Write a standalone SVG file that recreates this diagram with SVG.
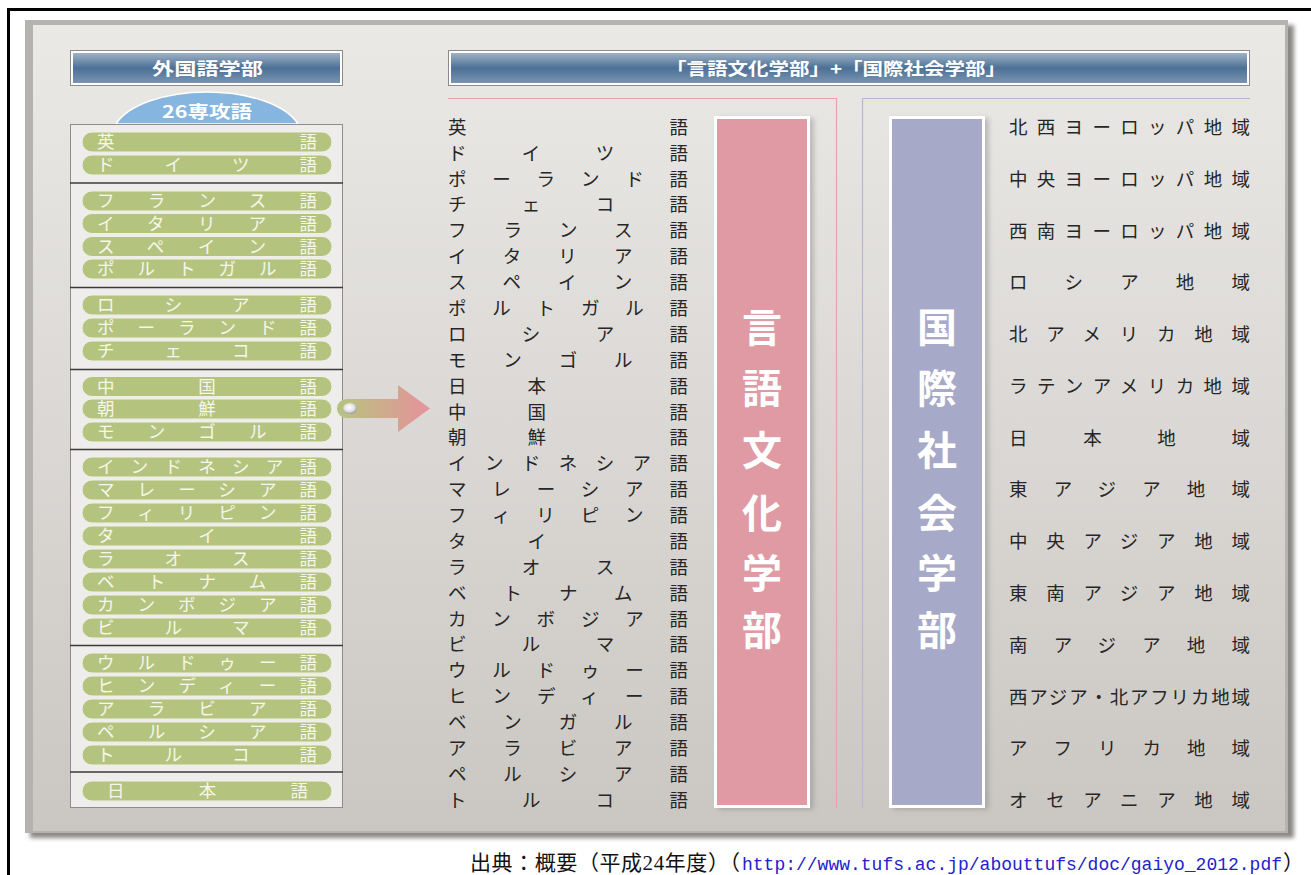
<svg xmlns="http://www.w3.org/2000/svg" width="1311" height="875" viewBox="0 0 1311 875">
<style>
.jp{font-family:"Noto Sans CJK JP","Noto Sans",sans-serif}
.pill rect{fill:#b4c47f;stroke:#eef0e4;stroke-width:1}
.pill text{font-family:"Noto Sans CJK JP",sans-serif;font-size:17.5px;fill:#f6f6ea}
.md text{font-family:"Noto Sans CJK JP",sans-serif;font-size:18.5px;fill:#262626}
.rt text{font-family:"Noto Sans CJK JP",sans-serif;font-size:18.5px;fill:#262626}
.hd{font-family:"Noto Sans CJK JP",sans-serif;font-size:17px;font-weight:bold;fill:#fff}
.vt{font-family:"Noto Sans CJK JP",sans-serif;font-size:40px;font-weight:bold;fill:#fff;text-anchor:middle}
.div{stroke:#3a3a3a;stroke-width:1.5}
</style>
<defs>
<linearGradient id="panelG" x1="0" y1="0" x2="0" y2="1"><stop offset="0" stop-color="#ebe9e6"/><stop offset="1" stop-color="#cac7c3"/></linearGradient>
<linearGradient id="hdrG" x1="0" y1="0" x2="0" y2="1"><stop offset="0" stop-color="#9fb2c6"/><stop offset=".5" stop-color="#4c7096"/><stop offset="1" stop-color="#7a94b0"/></linearGradient>
<linearGradient id="arrowG" gradientUnits="userSpaceOnUse" x1="337" y1="0" x2="430" y2="0"><stop offset="0" stop-color="#b5c47e"/><stop offset="1" stop-color="#e7929c"/></linearGradient>
<radialGradient id="knobG" cx=".45" cy=".4" r=".6"><stop offset="0" stop-color="#fff"/><stop offset=".6" stop-color="#e2e2e2"/><stop offset="1" stop-color="#9a9a9a"/></radialGradient>
<filter id="shadow" x="-20%" y="-5%" width="150%" height="110%"><feDropShadow dx="4" dy="2" stdDeviation="2.5" flood-color="#888" flood-opacity=".45"/></filter>
<filter id="blur"><feGaussianBlur stdDeviation="2"/></filter>
</defs>

<g id="panel">
<rect x="30" y="25" width="1264" height="813" fill="#8b8986" filter="url(#blur)"/>
<rect x="25" y="20" width="1263" height="813" fill="#b5b3b0"/>
<rect x="33" y="25" width="1252" height="806" fill="url(#panelG)"/>
</g>
<path d="M8.5 875V9.5H1311" fill="none" stroke="#000" stroke-width="3"/>

<g id="hdr-left">
<rect x="70.5" y="50.5" width="272" height="35" fill="#fff" stroke="#8a8a8a"/>
<rect x="73" y="53" width="267" height="30" fill="url(#hdrG)"/>
<text class="hd" x="152" y="75" textLength="111" lengthAdjust="spacingAndGlyphs">外国語学部</text>
</g>

<g id="badge-26">
<path d="M116 124A95 45 0 0 1 298 124Z" fill="#86b5df" stroke="#fff" stroke-width="1.5"/>
<text class="hd" x="162" y="118" textLength="90" lengthAdjust="spacingAndGlyphs">26専攻語</text>
</g>

<g id="list-left">
<rect x="70.5" y="124.5" width="272" height="683" fill="#efedeb" stroke="#8d8d8d"/>
<line class="div" x1="70" y1="183" x2="343" y2="183"/>
<line class="div" x1="70" y1="287.5" x2="343" y2="287.5"/>
<line class="div" x1="70" y1="369.5" x2="343" y2="369.5"/>
<line class="div" x1="70" y1="449.5" x2="343" y2="449.5"/>
<line class="div" x1="70" y1="645.5" x2="343" y2="645.5"/>
<line class="div" x1="70" y1="772" x2="343" y2="772"/>
</g>

<g id="p01" class="pill"><rect x="82" y="132" width="250" height="20" rx="10"/><text x="97" y="148" textLength="220">英語</text></g>
<g id="p02" class="pill"><rect x="82" y="155" width="250" height="20" rx="10"/><text x="97" y="171" textLength="220">ドイツ語</text></g>
<g id="p03" class="pill"><rect x="82" y="191" width="250" height="20" rx="10"/><text x="97" y="207" textLength="220">フランス語</text></g>
<g id="p04" class="pill"><rect x="82" y="213.5" width="250" height="20" rx="10"/><text x="97" y="229.5" textLength="220">イタリア語</text></g>
<g id="p05" class="pill"><rect x="82" y="236.5" width="250" height="20" rx="10"/><text x="97" y="252.5" textLength="220">スペイン語</text></g>
<g id="p06" class="pill"><rect x="82" y="259" width="250" height="20" rx="10"/><text x="97" y="275" textLength="220">ポルトガル語</text></g>
<g id="p07" class="pill"><rect x="82" y="295" width="250" height="20" rx="10"/><text x="97" y="311" textLength="220">ロシア語</text></g>
<g id="p08" class="pill"><rect x="82" y="318" width="250" height="20" rx="10"/><text x="97" y="334" textLength="220">ポーランド語</text></g>
<g id="p09" class="pill"><rect x="82" y="341" width="250" height="20" rx="10"/><text x="97" y="357" textLength="220">チェコ語</text></g>
<g id="p10" class="pill"><rect x="82" y="376.5" width="250" height="20" rx="10"/><text x="97" y="392.5" textLength="220">中国語</text></g>
<g id="p11" class="pill"><rect x="82" y="399" width="250" height="20" rx="10"/><text x="97" y="415" textLength="220">朝鮮語</text></g>
<g id="p12" class="pill"><rect x="82" y="422" width="250" height="20" rx="10"/><text x="97" y="438" textLength="220">モンゴル語</text></g>
<g id="p13" class="pill"><rect x="82" y="457" width="250" height="20" rx="10"/><text x="97" y="473" textLength="220">インドネシア語</text></g>
<g id="p14" class="pill"><rect x="82" y="480" width="250" height="20" rx="10"/><text x="97" y="496" textLength="220">マレーシア語</text></g>
<g id="p15" class="pill"><rect x="82" y="503" width="250" height="20" rx="10"/><text x="97" y="519" textLength="220">フィリピン語</text></g>
<g id="p16" class="pill"><rect x="82" y="526" width="250" height="20" rx="10"/><text x="97" y="542" textLength="220">タイ語</text></g>
<g id="p17" class="pill"><rect x="82" y="549" width="250" height="20" rx="10"/><text x="97" y="565" textLength="220">ラオス語</text></g>
<g id="p18" class="pill"><rect x="82" y="572" width="250" height="20" rx="10"/><text x="97" y="588" textLength="220">ベトナム語</text></g>
<g id="p19" class="pill"><rect x="82" y="595" width="250" height="20" rx="10"/><text x="97" y="611" textLength="220">カンボジア語</text></g>
<g id="p20" class="pill"><rect x="82" y="618" width="250" height="20" rx="10"/><text x="97" y="634" textLength="220">ビルマ語</text></g>
<g id="p21" class="pill"><rect x="82" y="653" width="250" height="20" rx="10"/><text x="97" y="669" textLength="220">ウルドゥー語</text></g>
<g id="p22" class="pill"><rect x="82" y="676" width="250" height="20" rx="10"/><text x="97" y="692" textLength="220">ヒンディー語</text></g>
<g id="p23" class="pill"><rect x="82" y="699" width="250" height="20" rx="10"/><text x="97" y="715" textLength="220">アラビア語</text></g>
<g id="p24" class="pill"><rect x="82" y="722" width="250" height="20" rx="10"/><text x="97" y="738" textLength="220">ペルシア語</text></g>
<g id="p25" class="pill"><rect x="82" y="745" width="250" height="20" rx="10"/><text x="97" y="761" textLength="220">トルコ語</text></g>
<g id="p26" class="pill"><rect x="82" y="781" width="250" height="20" rx="10"/><text x="107" y="797" textLength="201">日本語</text></g>

<g id="connectors">
<path d="M430 408.5L398 385V399H346.5A9.5 9.5 0 0 0 346.5 418H398V432Z" fill="url(#arrowG)"/>
<ellipse cx="350" cy="408.5" rx="7" ry="5.5" fill="url(#knobG)"/>
</g>

<g id="hdr-right">
<rect x="448.5" y="50.5" width="801" height="35" fill="#fff" stroke="#8a8a8a"/>
<rect x="451" y="53" width="796" height="30" fill="url(#hdrG)"/>
<text class="hd" x="666" y="75" textLength="340" lengthAdjust="spacingAndGlyphs">「言語文化学部」+「国際社会学部」</text>
</g>

<g id="frames">
<path d="M448 98.5H836.5V808" fill="none" stroke="#e7a3aa" stroke-width="1.2"/>
<path d="M862.5 808V98.5H1250" fill="none" stroke="#b9b5d3" stroke-width="1.2"/>
</g>

<g id="mid-list" class="md">
<text x="448" y="133.8" textLength="240">英語</text>
<text x="448" y="159.7" textLength="240">ドイツ語</text>
<text x="448" y="185.6" textLength="240">ポーランド語</text>
<text x="448" y="211.4" textLength="240">チェコ語</text>
<text x="448" y="237.3" textLength="240">フランス語</text>
<text x="448" y="263.2" textLength="240">イタリア語</text>
<text x="448" y="289.1" textLength="240">スペイン語</text>
<text x="448" y="315" textLength="240">ポルトガル語</text>
<text x="448" y="340.8" textLength="240">ロシア語</text>
<text x="448" y="366.7" textLength="240">モンゴル語</text>
<text x="448 527.5 669.5" y="392.6">日本語</text>
<text x="448 527.5 669.5" y="418.5">中国語</text>
<text x="448 527.5 669.5" y="444.4">朝鮮語</text>
<text x="448" y="470.2" textLength="240">インドネシア語</text>
<text x="448" y="496.1" textLength="240">マレーシア語</text>
<text x="448" y="522" textLength="240">フィリピン語</text>
<text x="448 527.5 669.5" y="547.9">タイ語</text>
<text x="448" y="573.8" textLength="240">ラオス語</text>
<text x="448" y="599.6" textLength="240">ベトナム語</text>
<text x="448" y="625.5" textLength="240">カンボジア語</text>
<text x="448" y="651.4" textLength="240">ビルマ語</text>
<text x="448" y="677.3" textLength="240">ウルドゥー語</text>
<text x="448" y="703.2" textLength="240">ヒンディー語</text>
<text x="448" y="729" textLength="240">ベンガル語</text>
<text x="448" y="754.9" textLength="240">アラビア語</text>
<text x="448" y="780.8" textLength="240">ペルシア語</text>
<text x="448" y="806.7" textLength="240">トルコ語</text>
</g>

<g id="box-gengo">
<rect x="715.5" y="117.5" width="93" height="689" fill="#e09aa4" stroke="#fff" stroke-width="3" filter="url(#shadow)"/>
<text class="vt" x="762" y="342">言</text>
<text class="vt" x="762" y="403">語</text>
<text class="vt" x="762" y="465">文</text>
<text class="vt" x="762" y="528">化</text>
<text class="vt" x="762" y="588">学</text>
<text class="vt" x="762" y="645">部</text>
</g>

<g id="box-kokusai">
<rect x="890.5" y="117.5" width="93" height="689" fill="#a7a9c8" stroke="#fff" stroke-width="3" filter="url(#shadow)"/>
<text class="vt" x="937" y="342">国</text>
<text class="vt" x="937" y="403">際</text>
<text class="vt" x="937" y="465">社</text>
<text class="vt" x="937" y="528">会</text>
<text class="vt" x="937" y="588">学</text>
<text class="vt" x="937" y="645">部</text>
</g>

<g id="region-list" class="rt">
<text x="1009" y="134" textLength="241">北西ヨーロッパ地域</text>
<text x="1009" y="185.8" textLength="241">中央ヨーロッパ地域</text>
<text x="1009" y="237.5" textLength="241">西南ヨーロッパ地域</text>
<text x="1009" y="289.3" textLength="241">ロシア地域</text>
<text x="1009" y="341.1" textLength="241">北アメリカ地域</text>
<text x="1009" y="392.9" textLength="241">ラテンアメリカ地域</text>
<text x="1009" y="444.6" textLength="241">日本地域</text>
<text x="1009" y="496.4" textLength="241">東アジア地域</text>
<text x="1009" y="548.2" textLength="241">中央アジア地域</text>
<text x="1009" y="599.9" textLength="241">東南アジア地域</text>
<text x="1009" y="651.7" textLength="241">南アジア地域</text>
<text x="1009" y="703.5" textLength="241">西アジア・北アフリカ地域</text>
<text x="1009" y="755.2" textLength="241">アフリカ地域</text>
<text x="1009" y="807" textLength="241">オセアニア地域</text>
</g>

<g id="footer">
<text x="470" y="870" textLength="270" font-family="'Liberation Serif','Noto Sans CJK JP',serif" font-size="21" fill="#111">出典：概要（平成24年度）（</text>
<text x="742" y="870" textLength="540" font-family="'Liberation Mono',monospace" font-size="18" fill="#2323c8">http://www.tufs.ac.jp/abouttufs/doc/gaiyo_2012.pdf</text>
<text x="1283" y="870" font-family="'Liberation Serif','Noto Sans CJK JP',serif" font-size="21" fill="#111">）</text>
</g>
</svg>
